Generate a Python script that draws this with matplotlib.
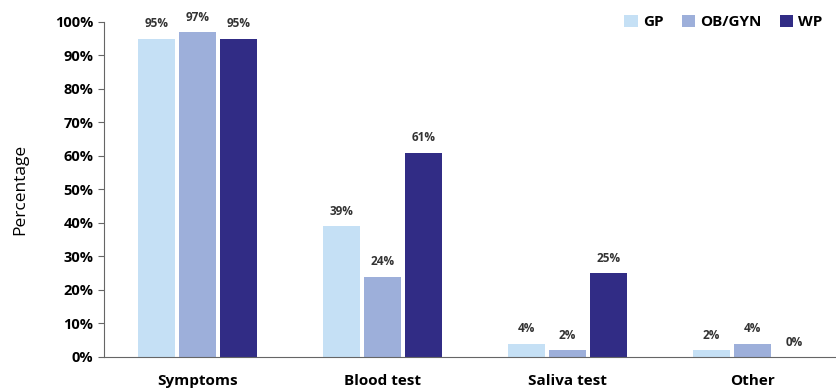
import numpy as np
import matplotlib.pyplot as plt
from matplotlib.ticker import PercentFormatter

categories = ["Symptoms", "Blood test", "Saliva test", "Other"]
series_names = ["GP", "OB/GYN", "WP"]
gp = [95, 39, 4, 2]
ob_gyn = [97, 24, 2, 4]
wp = [95, 61, 25, 0]

colors = ["#C5E0F5", "#9DAFDA", "#312C85"]

plt.rcParams["font.family"] = ["Open Sans", "DejaVu Sans"]

fig = plt.figure(figsize=(8.36, 3.89), dpi=100)
ax = fig.add_axes([0.1244, 0.0823, 0.8756, 0.8612])

x = np.arange(len(categories))
width = 0.2
offset = 0.222

for i, (name, values, color) in enumerate(zip(series_names, [gp, ob_gyn, wp], colors)):
    pos = x + (i - 1) * offset
    ax.bar(pos, values, width, color=color, label=name)
    for xp, v in zip(pos, values):
        ax.text(xp, v + 2.5, f"{v}%", ha="center", va="bottom",
                fontsize=8.5, fontweight="bold", color="#333333")

ax.set_xlim(-0.505, 3.45)
ax.set_ylim(0, 100)
ax.set_yticks(range(0, 101, 10))
ax.yaxis.set_major_formatter(PercentFormatter(decimals=0))
ax.set_xticks(x)
ax.set_xticklabels(categories, fontsize=11, fontweight="bold")
ax.tick_params(axis="x", length=0, pad=12)
ax.tick_params(axis="y", direction="out", length=4, labelsize=10.5, color="#666666")
for lbl in ax.get_yticklabels():
    lbl.set_fontweight("bold")

ax.spines["top"].set_visible(False)
ax.spines["right"].set_visible(False)
ax.spines["left"].set_color("#666666")
ax.spines["bottom"].set_color("#666666")

ax.set_ylabel("Percentage", fontsize=12.5)
ax.yaxis.set_label_coords(-0.103, 0.5)

ax.legend(loc="center right", bbox_to_anchor=(1.0, 1.0), ncol=3, frameon=False,
          handlelength=0.9, handleheight=0.9, handletextpad=0.3, columnspacing=1.2,
          prop={"weight": "bold", "size": 11})

fig.savefig("out.png", dpi=100)
